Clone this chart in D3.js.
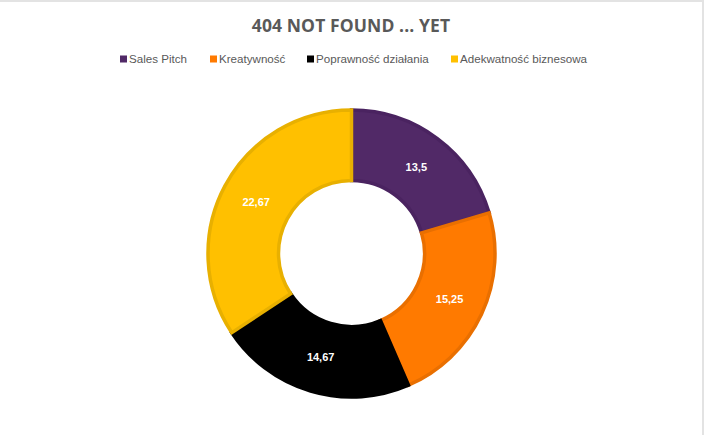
<!DOCTYPE html>
<html><head><meta charset="utf-8">
<script src="https://cdn.jsdelivr.net/npm/d3@7/dist/d3.min.js"></script>
<style>html,body{margin:0;padding:0;background:#fff;}svg{display:block;}</style>
</head><body>
<svg id="chart" width="704" height="435"></svg>
<script>
const title = "404 NOT FOUND ... YET";
const categories = ["Sales Pitch", "Kreatywność", "Poprawność działania", "Adekwatność biznesowa"];
const values = [13.5, 15.25, 14.67, 22.67];
const labels = ["13,5", "15,25", "14,67", "22,67"];
const fills = ["#512967", "#FF7A00", "#000000", "#FFC000"];
const strokes = ["#4A2360", "#E96F00", "#000000", "#E8B000"];

const W = 704, H = 435;
const svg = d3.select("#chart");

// frame lines (top and right)
svg.append("line").attr("x1",0).attr("x2",W).attr("y1",1).attr("y2",1).attr("stroke","#e3e3e3").attr("stroke-width",2);
svg.append("line").attr("x1",W-1).attr("x2",W-1).attr("y1",0).attr("y2",H).attr("stroke","#e3e3e3").attr("stroke-width",2);

svg.append("text").attr("x",351).attr("y",32).attr("text-anchor","middle")
  .attr("font-family","'Open Sans', 'Liberation Sans', sans-serif").attr("font-weight","bold")
  .attr("font-size",17.5).attr("fill","#595959").attr("letter-spacing",0.1).text(title);

// legend
const legendX = [120, 210, 307, 451];
const lg = svg.append("g");
categories.forEach((c,i)=>{
  const g = lg.append("g").attr("transform",`translate(${legendX[i]},59)`);
  g.append("rect").attr("x",0).attr("y",-3.5).attr("width",7).attr("height",7).attr("fill",fills[i]);
  g.append("text").attr("x",9).attr("y",4).attr("font-family","'Liberation Sans', Arial, sans-serif")
    .attr("font-size",11.6).attr("fill","#595959").text(c);
});

const cx = 351.5, cy = 253.5, rOuter = 143.5, rInner = 73;
const pie = d3.pie().sort(null).value(d=>d)(values);
const arc = d3.arc().innerRadius(rInner).outerRadius(rOuter);
const labelArc = d3.arc().innerRadius((rInner+rOuter)/2).outerRadius((rInner+rOuter)/2);
const g = svg.append("g").attr("transform",`translate(${cx},${cy})`);
g.selectAll("path").data(pie).join("path")
  .attr("d",arc).attr("fill",(d,i)=>fills[i]).attr("stroke",(d,i)=>strokes[i]).attr("stroke-width",3.5)
  .attr("stroke-linejoin","miter");
g.selectAll("text").data(pie).join("text")
  .attr("transform",d=>`translate(${labelArc.centroid(d)})`)
  .attr("text-anchor","middle").attr("dy","0.36em")
  .attr("font-family","'Liberation Sans', Arial, sans-serif").attr("font-weight","bold")
  .attr("font-size",11).attr("fill","#ffffff").text((d,i)=>labels[i]);
</script>
</body></html>
